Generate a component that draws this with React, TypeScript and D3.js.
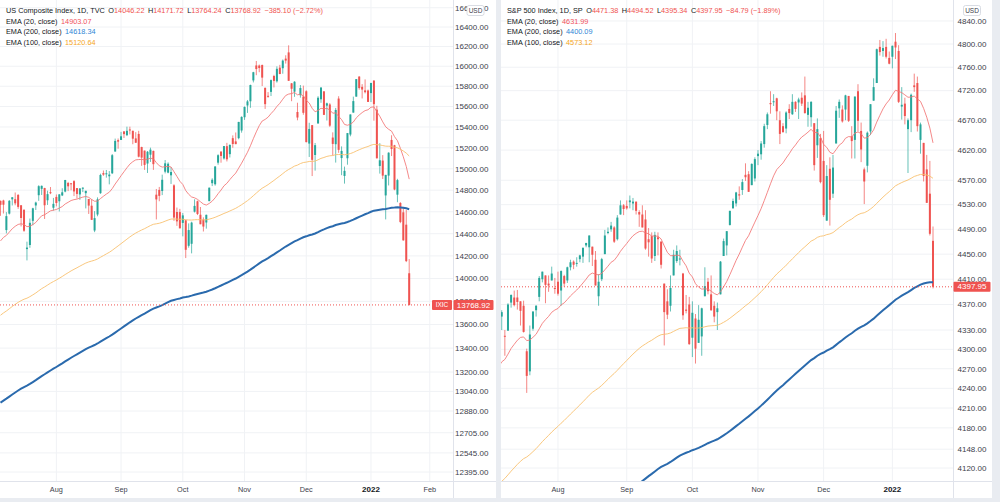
import React from "react";
import * as d3 from "d3";

// Trading sessions, Jul 2021 - Jan 2022
const sessionMonths = ["2021-07", "2021-08", "2021-09", "2021-10", "2021-11", "2021-12", "2022-01"];
const sessionDays = [
  [6, 7, 8, 9, 12, 13, 14, 15, 16, 19, 20, 21, 22, 23, 26, 27, 28, 29, 30],
  [2, 3, 4, 5, 6, 9, 10, 11, 12, 13, 16, 17, 18, 19, 20, 23, 24, 25, 26, 27, 30, 31],
  [1, 2, 3, 7, 8, 9, 10, 13, 14, 15, 16, 17, 20, 21, 22, 23, 24, 27, 28, 29, 30],
  [1, 4, 5, 6, 7, 8, 11, 12, 13, 14, 15, 18, 19, 20, 21, 22, 25, 26, 27, 28, 29],
  [1, 2, 3, 4, 5, 8, 9, 10, 11, 12, 15, 16, 17, 18, 19, 22, 23, 24, 26, 29, 30],
  [1, 2, 3, 6, 7, 8, 9, 10, 13, 14, 15, 16, 17, 20, 21, 22, 23, 27, 28, 29, 30, 31],
  [3, 4, 5, 6, 7, 10, 11, 12, 13, 14, 18, 19, 20, 21],
];
// sessions still to come before February (for the Feb label)
const januaryDaysAhead = [24, 25, 26, 27, 28, 31];
const timeLabels = ["Aug", "Sep", "Oct", "Nov", "Dec", "2022", "Feb"];

// US Composite (IXIC) daily OHLC
const nasdaqOpen = [
  14701, 14704, 14433, 14583, 14715, 14716, 14756, 14660, 14619, 14261, 14298, 14517, 14658, 14753, 14812, 14820, 14706, 14781, 14637,
  14737, 14697, 14751, 14787, 14867, 14864, 14884, 14819, 14760, 14813, 14772, 14718, 14656, 14429, 14575, 14772, 14960, 14958, 14930, 14958, 15164, 15273,
  15275, 15357, 15321, 15376, 15363, 15290, 15333, 15207, 15173, 15050, 15134, 15170, 14758, 14802, 14792, 14973, 14964, 14939, 14845, 14598, 14597,
  14498, 14522, 14291, 14309, 14601, 14697, 14573, 14528, 14502, 14698, 14865, 14855, 15058, 15164, 15098, 15215, 15139, 15292, 15261, 15292, 15366,
  15495, 15610, 15651, 15858, 16008, 16007, 16012, 15784, 15705, 15744, 15902, 15849, 15986, 15980, 16077, 16140, 15829, 15746, 15546, 15711, 15698,
  15750, 15240, 15418, 15131, 15434, 15671, 15749, 15608, 15620, 15298, 15234, 15678, 15102, 14933, 15100, 15327, 15540, 15697, 15896, 15794, 15759, 15758,
  15732, 15856, 15569, 15027, 15078, 14751, 14936, 15275, 15224, 14758, 14681, 14595, 14482, 14046.22,
];
const nasdaqHigh = [
  14703, 14711, 14597, 14708, 14735, 14778, 14763, 14662, 14620, 14328, 14538, 14637, 14693, 14846, 14844, 14822, 14795, 14829, 14728,
  14760, 14762, 14818, 14896, 14877, 14867, 14893, 14819, 14818, 14827, 14794, 14718, 14716, 14606, 14733, 14954, 14984, 14989, 14979, 15140, 15288, 15289,
  15353, 15361, 15403, 15403, 15365, 15350, 15363, 15210, 15173, 15169, 15201, 15173, 14811, 14830, 14945, 15083, 15061, 15016, 14855, 14639, 14627,
  14589, 14527, 14494, 14509, 14715, 14703, 14644, 14549, 14574, 14824, 14911, 15025, 15138, 15164, 15217, 15247, 15233, 15319, 15347, 15450, 15504,
  15601, 15664, 15816, 15944, 16053, 16017, 16017, 15787, 15742, 15867, 15914, 15999, 16014, 16068, 16111, 16212, 15832, 15850, 15637, 15812, 15806,
  15760, 15441, 15418, 15246, 15701, 15790, 15752, 15638, 15633, 15348, 15586, 15701, 15213, 15021, 15342, 15522, 15697, 15871, 15901, 15821, 15868, 15767,
  15833, 15860, 15607, 15244, 15130, 14943, 15157, 15320, 15228, 14906, 14689, 14644, 14616, 14171.72,
];
const nasdaqLow = [
  14563, 14584, 14403, 14575, 14658, 14660, 14627, 14466, 14417, 14160, 14273, 14477, 14616, 14701, 14755, 14534, 14663, 14763, 14611,
  14650, 14603, 14745, 14780, 14791, 14799, 14745, 14723, 14710, 14782, 14631, 14580, 14525, 14414, 14559, 14766, 14934, 14917, 14854, 14951, 15163, 15191,
  15275, 15294, 15312, 15328, 15234, 15248, 15108, 15028, 14990, 14961, 15065, 14990, 14530, 14697, 14754, 14957, 14958, 14858, 14517, 14471, 14448,
  14376, 14181, 14274, 14223, 14593, 14570, 14486, 14420, 14446, 14698, 14838, 14842, 15039, 15058, 15087, 15070, 15107, 15200, 15234, 15281, 15345,
  15469, 15537, 15587, 15838, 15910, 15940, 15802, 15576, 15686, 15703, 15788, 15836, 15920, 15925, 16027, 15853, 15652, 15695, 15465, 15687, 15519,
  15252, 15112, 14932, 14983, 15434, 15636, 15516, 15463, 15401, 15126, 15059, 15152, 14940, 14861, 15039, 15310, 15540, 15697, 15766, 15679, 15729, 15644,
  15644, 15461, 15097, 14955, 14904, 14530, 14844, 15121, 14799, 14688, 14496, 14337, 14145, 13764.24,
];
const nasdaqClose = [
  14664, 14665, 14560, 14701, 14734, 14678, 14645, 14543, 14427, 14275, 14499, 14632, 14685, 14837, 14840, 14660, 14763, 14779, 14673,
  14681, 14761, 14780, 14895, 14836, 14860, 14788, 14765, 14816, 14823, 14794, 14657, 14526, 14542, 14715, 14942, 14945, 14958, 14946, 15129, 15266, 15259,
  15310, 15331, 15363, 15374, 15287, 15248, 15115, 15106, 15037, 15162, 15182, 15044, 14714, 14747, 14897, 15052, 15048, 14970, 14547, 14512, 14449,
  14567, 14255, 14433, 14501, 14654, 14580, 14486, 14465, 14572, 14823, 14897, 15022, 15129, 15122, 15216, 15090, 15227, 15236, 15235, 15449, 15498,
  15595, 15650, 15812, 15940, 15972, 15982, 15886, 15623, 15704, 15861, 15853, 15974, 15922, 16057, 16057, 15854, 15775, 15845, 15492, 15782, 15538,
  15254, 15381, 15085, 15225, 15686, 15787, 15518, 15631, 15413, 15237, 15566, 15180, 15170, 14981, 15341, 15522, 15653, 15871, 15782, 15767, 15741, 15645,
  15833, 15623, 15100, 15081, 14936, 14943, 15153, 15188, 14806, 14894, 14507, 14340, 14154.02, 13768.92,
];

// S&P 500 (SPX) daily OHLC
const spxOpen = [
  4356, 4351, 4321, 4329, 4373, 4381, 4381, 4375, 4368, 4297, 4266, 4332, 4361, 4382, 4410, 4416, 4403, 4408, 4396,
  4406, 4392, 4415, 4408, 4429, 4438, 4436, 4442, 4446, 4464, 4461, 4462, 4441, 4383, 4410, 4450, 4484, 4490, 4493, 4474, 4514, 4529,
  4528, 4534, 4532, 4535, 4518, 4514, 4506, 4474, 4479, 4447, 4477, 4470, 4403, 4375, 4368, 4416, 4439, 4443, 4419, 4362, 4370,
  4318, 4348, 4310, 4320, 4383, 4406, 4386, 4368, 4358, 4386, 4447, 4464, 4497, 4524, 4532, 4547, 4554, 4579, 4580, 4562, 4573,
  4610, 4613, 4630, 4662, 4699, 4702, 4707, 4670, 4660, 4656, 4689, 4680, 4701, 4700, 4708, 4712, 4679, 4675, 4665, 4628, 4640,
  4602, 4504, 4589, 4548, 4631, 4690, 4688, 4688, 4711, 4643, 4637, 4719, 4652, 4588, 4594, 4651, 4703, 4733, 4795, 4788, 4795, 4776,
  4778, 4804, 4788, 4693, 4698, 4655, 4670, 4729, 4733, 4637, 4632, 4588, 4548, 4471.38,
];
const spxHigh = [
  4358, 4361, 4330, 4372, 4386, 4392, 4393, 4375, 4376, 4301, 4337, 4359, 4369, 4415, 4422, 4416, 4416, 4430, 4412,
  4422, 4424, 4417, 4430, 4441, 4440, 4445, 4449, 4461, 4468, 4480, 4462, 4455, 4418, 4444, 4489, 4493, 4502, 4495, 4513, 4537, 4531,
  4537, 4545, 4541, 4535, 4521, 4529, 4521, 4492, 4485, 4486, 4485, 4471, 4403, 4394, 4416, 4457, 4464, 4457, 4420, 4385, 4382,
  4375, 4355, 4369, 4365, 4429, 4412, 4416, 4375, 4373, 4439, 4475, 4487, 4520, 4540, 4551, 4560, 4572, 4598, 4585, 4598, 4608,
  4620, 4635, 4664, 4683, 4719, 4714, 4708, 4685, 4665, 4685, 4697, 4714, 4702, 4708, 4717, 4744, 4701, 4702, 4665, 4673, 4647,
  4652, 4595, 4608, 4612, 4694, 4705, 4695, 4713, 4711, 4660, 4710, 4731, 4666, 4591, 4651, 4697, 4741, 4792, 4807, 4805, 4809, 4787,
  4797, 4819, 4798, 4726, 4708, 4673, 4715, 4749, 4744, 4666, 4632, 4612, 4602, 4494.52,
];
const spxLow = [
  4314, 4330, 4290, 4329, 4365, 4367, 4362, 4337, 4326, 4233, 4260, 4329, 4351, 4375, 4405, 4372, 4390, 4408, 4387,
  4384, 4368, 4398, 4404, 4424, 4426, 4430, 4437, 4436, 4461, 4437, 4431, 4400, 4368, 4407, 4450, 4482, 4486, 4468, 4472, 4514, 4513,
  4522, 4524, 4521, 4514, 4494, 4493, 4457, 4446, 4436, 4439, 4448, 4427, 4306, 4347, 4359, 4416, 4436, 4432, 4346, 4356, 4307,
  4288, 4278, 4310, 4290, 4383, 4386, 4360, 4342, 4330, 4386, 4447, 4448, 4496, 4524, 4527, 4538, 4546, 4569, 4551, 4562, 4568,
  4595, 4604, 4624, 4655, 4681, 4694, 4670, 4630, 4649, 4648, 4672, 4679, 4684, 4672, 4694, 4681, 4659, 4659, 4586, 4607, 4565,
  4510, 4504, 4496, 4541, 4631, 4674, 4666, 4670, 4667, 4606, 4606, 4651, 4600, 4531, 4583, 4645, 4703, 4733, 4780, 4778, 4775, 4765,
  4758, 4774, 4699, 4671, 4663, 4582, 4650, 4718, 4651, 4614, 4568, 4533, 4480, 4395.34,
];
const spxClose = [
  4343, 4358, 4320, 4370, 4385, 4369, 4374, 4360, 4327, 4259, 4323, 4359, 4368, 4412, 4422, 4401, 4400, 4419, 4395,
  4387, 4423, 4403, 4429, 4437, 4433, 4436, 4448, 4460, 4468, 4480, 4449, 4400, 4406, 4442, 4480, 4486, 4496, 4470, 4509, 4529, 4523,
  4524, 4537, 4535, 4520, 4514, 4493, 4459, 4469, 4443, 4481, 4474, 4433, 4358, 4354, 4396, 4449, 4455, 4443, 4353, 4360, 4308,
  4357, 4301, 4346, 4364, 4399, 4391, 4361, 4351, 4364, 4438, 4471, 4487, 4520, 4536, 4550, 4545, 4567, 4575, 4551, 4597, 4605,
  4614, 4631, 4660, 4680, 4697, 4702, 4685, 4647, 4650, 4683, 4682, 4701, 4689, 4705, 4698, 4682, 4691, 4701, 4595, 4655, 4567,
  4513, 4577, 4538, 4591, 4686, 4701, 4668, 4712, 4669, 4635, 4710, 4669, 4621, 4568, 4649, 4697, 4726, 4791, 4786, 4793, 4778, 4766,
  4797, 4794, 4701, 4696, 4677, 4670, 4713, 4726, 4660, 4663, 4577, 4533, 4482.74, 4397.95,
];

// price scale ticks
const nasdaqTicks = [16600, 16400, 16200, 16000, 15800, 15600, 15400, 15200, 15000, 14800, 14600, 14400, 14200, 14000, 13800, 13600, 13400, 13200, 13040, 12880, 12705, 12545, 12395];
const spxTicks = [4840, 4800, 4760, 4720, 4670, 4620, 4570, 4530, 4490, 4450, 4410, 4370, 4330, 4300, 4270, 4240, 4210, 4180, 4148, 4120];

// EMA study: periods, value before the first session, legend values
const emaPeriods = [20, 200, 100];
const nasdaqEmaSeed = [14300, 12930, 13660];
const spxEmaSeed = [4265, 3900, 4090];
const nasdaqEmaLegend = ["14903.07", "14618.34", "15120.64"];
const spxEmaLegend = ["4631.99", "4400.09", "4573.12"];

const GREEN = "#26a69a";
const RED = "#ef5350";
const DARK = "#131722";
const AXIS_TEXT = "#3d414b";
const GRID = "#f0f2f5";
const BORDER = "#e0e3eb";
const FONT = "'Liberation Sans', Arial, sans-serif";
const emaLine = [
  { stroke: "#f27474", width: 1, opacity: 0.85 },
  { stroke: "#2a6aad", width: 2, opacity: 1 },
  { stroke: "#f8c170", width: 1, opacity: 0.9 },
];
const emaText = ["#f0525c", "#2e86d6", "#f5a623"];

const PLOT_BOTTOM = 481;
const PANEL_BOTTOM = 498;

const ema = (values: number[], period: number, seed: number) => {
  const k = 2 / (period + 1);
  let prev = seed;
  return values.map((v) => (prev = prev + k * (v - prev)));
};

const sessionCount = sessionDays.reduce((s, d) => s + d.length, 0);
const monthStarts = sessionDays.slice(1).map((_, j) => d3.sum(sessionDays.slice(0, j + 1), (d) => d.length));
monthStarts.push(sessionCount + januaryDaysAhead.length);

const fmt = (v: number) => v.toFixed(2).replace("-", "\u2212");

type PanelProps = {
  id: string;
  x0: number;
  x1: number;
  axisX: number;
  labelX: number;
  title: string;
  symbol?: string;
  open: number[];
  high: number[];
  low: number[];
  close: number[];
  x: d3.ScaleLinear<number, number>;
  y: d3.ScaleLogarithmic<number, number>;
  ticks: number[];
  seeds: number[];
  legend: string[];
  boxWidth: number;
  usdX: number;
};

const Panel = ({ id, x0, x1, axisX, labelX, title, symbol, open, high, low, close, x, y, ticks, seeds, legend, boxWidth, usdX }: PanelProps) => {
  const last = close.length - 1;
  const change = close[last] - close[last - 1];
  const pct = (change / close[last - 1]) * 100;
  const lastY = y(close[last]);
  const emas = emaPeriods.map((p, j) => ema(close, p, seeds[j]));
  const line = d3
    .line<number>()
    .x((_, i) => x(i))
    .y((v) => y(v));

  const ohlc = [
    ["O", open[last]],
    ["H", high[last]],
    ["L", low[last]],
    ["C", close[last]],
  ] as [string, number][];

  return (
    <g>
      <rect x={x0} y={0} width={x1 - x0} height={PANEL_BOTTOM} fill="#ffffff" />
      <clipPath id={id}>
        <rect x={x0} y={0} width={axisX - x0} height={PLOT_BOTTOM} />
      </clipPath>

      {/* grid */}
      {ticks.map((t) => (
        <line key={t} x1={x0} x2={axisX} y1={y(t)} y2={y(t)} stroke={GRID} strokeWidth={1} />
      ))}
      {monthStarts
        .filter((i) => x(i) < axisX - 6)
        .map((i) => (
          <line key={i} x1={x(i)} x2={x(i)} y1={0} y2={PLOT_BOTTOM} stroke={GRID} strokeWidth={1} />
        ))}

      <g clipPath={`url(#${id})`}>
        {open.map((op, i) => {
          const cl = close[i];
          const col = cl >= op ? GREEN : RED;
          const cx = x(i);
          const top = y(Math.max(op, cl));
          const bot = y(Math.min(op, cl));
          return (
            <g key={i}>
              <line x1={cx} x2={cx} y1={y(high[i])} y2={y(low[i])} stroke={col} strokeWidth={1} strokeOpacity={0.7} />
              <rect x={cx - 1} y={top} width={2} height={Math.max(1, bot - top)} fill={col} />
            </g>
          );
        })}
        {emas.map((vals, j) => (
          <path
            key={j}
            d={line(vals) ?? ""}
            fill="none"
            stroke={emaLine[j].stroke}
            strokeWidth={emaLine[j].width}
            strokeOpacity={emaLine[j].opacity}
          />
        ))}
        <line x1={x0} x2={axisX} y1={lastY} y2={lastY} stroke={RED} strokeWidth={1} strokeDasharray="1 2" />
      </g>

      {/* axes frame */}
      <line x1={axisX + 0.5} x2={axisX + 0.5} y1={0} y2={PANEL_BOTTOM} stroke={BORDER} />
      <line x1={x0} x2={x1} y1={PLOT_BOTTOM + 0.5} y2={PLOT_BOTTOM + 0.5} stroke={BORDER} />

      {/* price labels */}
      {ticks.map((t) => (
        <text key={t} x={labelX} y={y(t) + 2.8} fontSize={8} fill={AXIS_TEXT}>
          {t.toFixed(2)}
        </text>
      ))}

      {/* time labels */}
      {monthStarts.map((i, j) =>
        x(i) < axisX - 6 ? (
          <text
            key={i}
            x={x(i)}
            y={492}
            fontSize={timeLabels[j] === "2022" ? 8 : 7.3}
            fontWeight={timeLabels[j] === "2022" ? "bold" : "normal"}
            fill={timeLabels[j] === "2022" ? DARK : AXIS_TEXT}
            textAnchor="middle"
          >
            {timeLabels[j]}
          </text>
        ) : null
      )}

      {/* last price marker */}
      {symbol && (
        <g>
          <rect x={axisX - 21} y={lastY - 5} width={20} height={10} fill={RED} rx={1} />
          <text x={axisX - 11} y={lastY + 2.5} fontSize={6.5} fill="#ffffff" textAnchor="middle">
            {symbol}
          </text>
        </g>
      )}
      <rect x={axisX + 0.5} y={lastY - 5} width={boxWidth} height={10} fill={RED} rx={1} />
      <text x={axisX + 0.5 + boxWidth / 2} y={lastY + 2.7} fontSize={8} fill="#ffffff" textAnchor="middle">
        {fmt(close[last])}
      </text>

      {/* currency badge */}
      <rect x={usdX} y={5.5} width={17} height={10} rx={2} fill="#ffffff" stroke="#cfd3dc" strokeWidth={0.8} />
      <text x={usdX + 8.5} y={13} fontSize={6.5} fill={AXIS_TEXT} textAnchor="middle">
        USD
      </text>

      {/* legend */}
      <text x={x0 + 6} y={12.7} fontSize={7.3} fill={DARK}>
        <tspan>{title}</tspan>
        {ohlc.map(([k, v]) => (
          <React.Fragment key={k}>
            <tspan dx={3.5} fill={DARK}>
              {k}
            </tspan>
            <tspan fill={RED}>{fmt(v)}</tspan>
          </React.Fragment>
        ))}
        <tspan dx={3.5} fill={RED}>
          {`${fmt(change)} (${fmt(pct)}%)`}
        </tspan>
      </text>
      {emaPeriods.map((p, j) => (
        <text key={p} x={x0 + 6} y={23.7 + j * 10.5} fontSize={7.3} fill={DARK}>
          <tspan>{`EMA (${p}, close)`}</tspan>
          <tspan dx={3.5} fill={emaText[j]}>
            {legend[j]}
          </tspan>
        </text>
      ))}
    </g>
  );
};

export default function App() {
  const n = nasdaqClose.length;
  const xLeft = d3.scaleLinear().domain([0, n - 1]).range([0.5, 409.2]);
  const xRight = d3.scaleLinear().domain([0, n - 1]).range([498.6, 933]);
  const yLeft = d3.scaleLog().domain([13200, 16400]).range([372, 27]);
  const yRight = d3.scaleLog().domain([4120, 4800]).range([468, 44]);

  return (
    <svg
      width={1000}
      height={502}
      style={{ position: "absolute", left: 0, top: 0, display: "block" }}
      fontFamily={FONT}
    >
      <rect x={0} y={0} width={1000} height={502} fill="#e9ecf1" />
      <Panel
        id="clip-ixic"
        x0={0}
        x1={496}
        axisX={453}
        labelX={455}
        title="US Composite Index, 1D, TVC"
        symbol="IXIC"
        open={nasdaqOpen}
        high={nasdaqHigh}
        low={nasdaqLow}
        close={nasdaqClose}
        x={xLeft}
        y={yLeft}
        ticks={nasdaqTicks}
        seeds={nasdaqEmaSeed}
        legend={nasdaqEmaLegend}
        boxWidth={40}
        usdX={467}
      />
      <Panel
        id="clip-spx"
        x0={501}
        x1={992}
        axisX={953}
        labelX={957.5}
        title="S&P 500 Index, 1D, SP"
        open={spxOpen}
        high={spxHigh}
        low={spxLow}
        close={spxClose}
        x={xRight}
        y={yRight}
        ticks={spxTicks}
        seeds={spxEmaSeed}
        legend={spxEmaLegend}
        boxWidth={37}
        usdX={963.5}
      />
    </svg>
  );
}
